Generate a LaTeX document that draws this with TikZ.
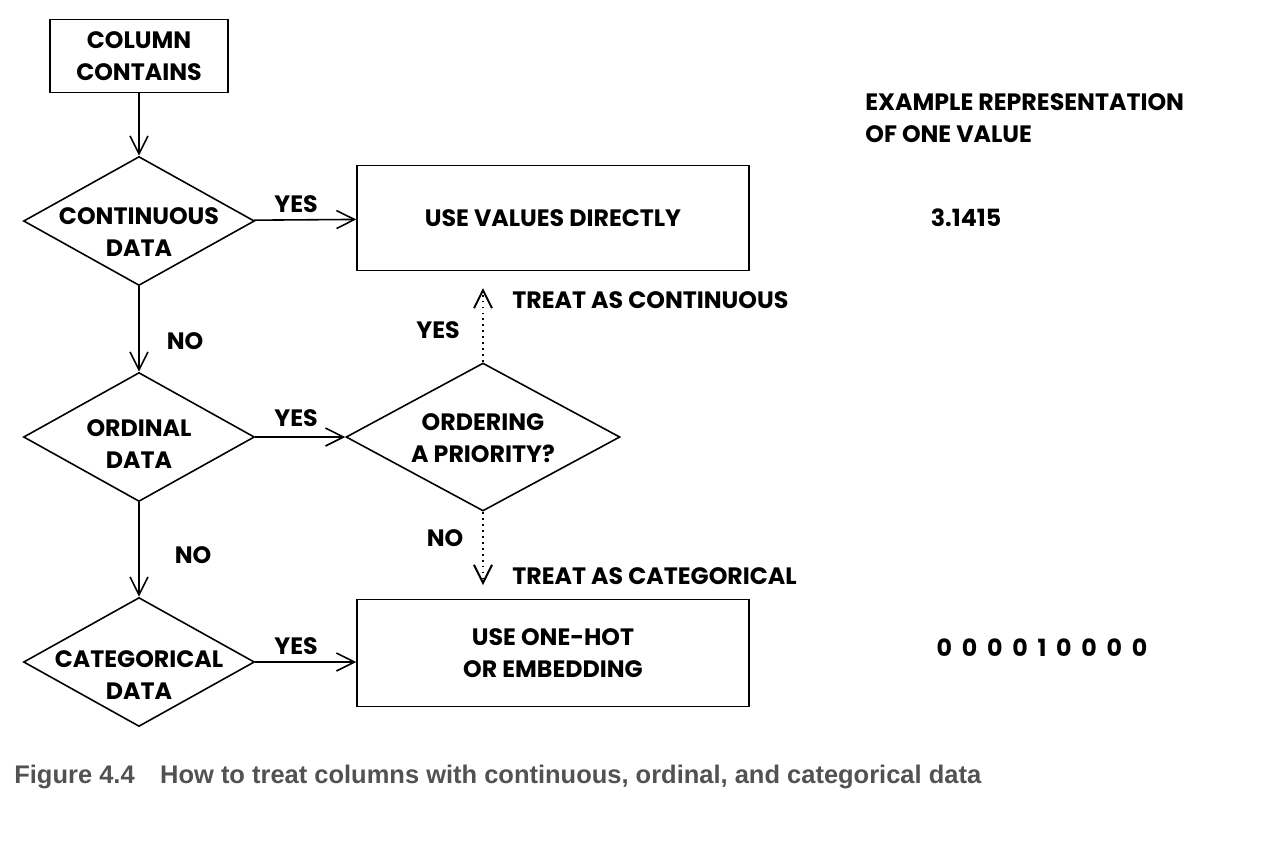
\documentclass[tikz,border=0pt]{standalone}
\usepackage{fontspec}
\setmainfont{Poppins}
\newfontfamily\capfont{Liberation Sans}
\usetikzlibrary{shapes.geometric,arrows.meta}
\definecolor{capgray}{RGB}{82,82,82}

\begin{document}
\begin{tikzpicture}[
   x=0.02cm, y=-0.02cm,
   font=\bfseries\fontsize{13.5}{18.5}\selectfont,
   box/.style={draw, line width=0.9pt, align=center, inner sep=0pt},
   decision/.style={diamond, draw, line width=0.9pt, inner sep=0pt},
   arrow/.style={-{Straight Barb[length=3.6mm,width=3.6mm]}, line width=0.9pt},
   hint/.style={arrow, dash pattern=on 1.1pt off 2.3pt, line width=1.1pt},
   lbl/.style={inner sep=0pt, align=center}
]
\useasboundingbox (0,0) rectangle (1272,850);

% Main column
\node[box, minimum width=3.56cm, minimum height=1.46cm] (col) at (139,56) {COLUMN\\CONTAINS};
\node[decision, minimum width=4.62cm, minimum height=2.58cm] (cont) at (139,221) {};
\node[decision, minimum width=4.62cm, minimum height=2.58cm] (ord) at (139,437) {};
\node[decision, minimum width=4.62cm, minimum height=2.58cm] (cat) at (139,662) {};
\node[lbl] (contT) at (139,232) {CONTINUOUS\\DATA};
\node[lbl] (ordT) at (139,444) {ORDINAL\\DATA};
\node[lbl] (catT) at (139,675) {CATEGORICAL\\DATA};
\draw[arrow] (col) -- (cont);
\draw[arrow] (cont) -- (ord);
\draw[arrow] (ord) -- (cat);
\node[lbl] (no1) at (185,341) {NO};
\node[lbl] (no2) at (193,555) {NO};

% Outcomes
\node[box, minimum width=7.84cm, minimum height=2.1cm] (direct) at (553,218) {USE VALUES DIRECTLY};
\node[decision, minimum width=5.48cm, minimum height=2.96cm] (prio) at (483,437) {};
\node[lbl] (prioT) at (483,438) {ORDERING\\A PRIORITY?};
\node[box, minimum width=7.84cm, minimum height=2.14cm] (onehot) at (553,653) {USE ONE-HOT\\OR EMBEDDING};
\draw[arrow] (cont) -- (direct);
\draw[arrow] (ord) -- (prio);
\draw[arrow] (cat) -- (cat -| onehot.west);
\node[lbl] (yes1) at (296,204) {YES};
\node[lbl] (yes2) at (296,418) {YES};
\node[lbl] (yes3) at (296,646) {YES};

% Ordering a priority?
\coordinate (up) at (483,288);
\coordinate (down) at (483,585);
\draw[hint] (prio) -- (up);
\draw[hint] (prio) -- (down);
\node[lbl] (yes4) at (438,330) {YES};
\node[lbl] (no3) at (445,538) {NO};
\node[lbl, anchor=west] (tcont) at (512,300) {TREAT AS CONTINUOUS};
\node[lbl, anchor=west] (tcat) at (512,576) {TREAT AS CATEGORICAL};

% Example representation
\node[lbl, anchor=west, align=left] (head) at (865,118) {EXAMPLE REPRESENTATION\\OF ONE VALUE};
\node[lbl] (pi) at (966,218) {3.1415};
\node[lbl] (bits) at (1042,648) {\addfontfeature{LetterSpace=20}0 0 0 0 1 0 0 0 0};

% Caption
\node[lbl, anchor=west, text=capgray, font=\capfont\bfseries\fontsize{14.5}{17}\selectfont] (cap) at (14,777)
   {Figure 4.4\hspace{1em}How to treat columns with continuous, ordinal, and categorical data};

\end{tikzpicture}
\end{document}
